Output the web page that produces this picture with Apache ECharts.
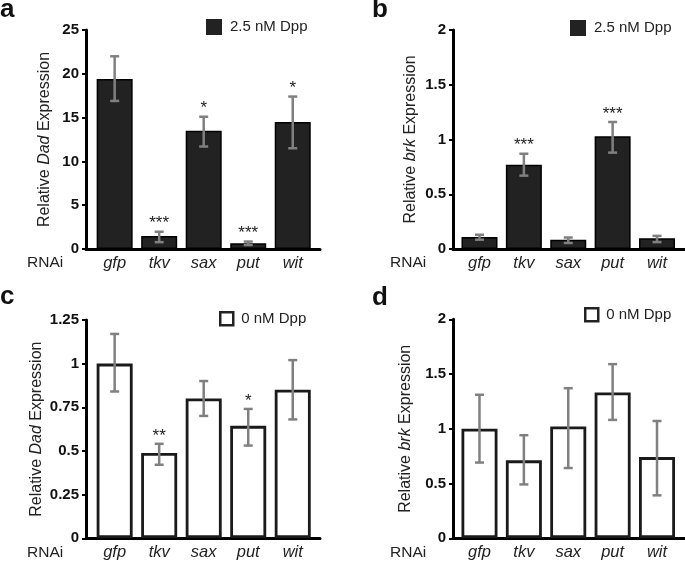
<!DOCTYPE html>
<html>
<head>
<meta charset="utf-8">
<script src="https://cdn.jsdelivr.net/npm/echarts@6/dist/echarts.min.js"></script>
<style>
html,body{margin:0;padding:0;background:#fff;}
#chart{width:685px;height:561px;}
</style>
</head>
<body>
<div id="chart"></div>
<script>
// ---- Data ----
const categories = ['gfp', 'tkv', 'sax', 'put', 'wit'];

// Panel a: Relative Dad expression, 2.5 nM Dpp
const dadDppMean = [19.4, 1.48, 13.5, 0.65, 14.5];
const dadDppLow  = [16.9, 0.78, 11.7, 0.45, 11.5];
const dadDppHigh = [22.0, 1.97, 15.1, 0.85, 17.4];
const dadDppStars = ['', '***', '*', '***', '*'];

// Panel b: Relative brk expression, 2.5 nM Dpp
const brkDppMean = [0.11, 0.77, 0.085, 1.03, 0.098];
const brkDppLow  = [0.085, 0.67, 0.055, 0.88, 0.063];
const brkDppHigh = [0.13, 0.87, 0.105, 1.16, 0.12];
const brkDppStars = ['', '***', '', '***', ''];

// Panel c: Relative Dad expression, 0 nM Dpp
const dadZeroMean = [1.0, 0.487, 0.80, 0.643, 0.85];
const dadZeroLow  = [0.84, 0.42, 0.70, 0.53, 0.68];
const dadZeroHigh = [1.17, 0.54, 0.90, 0.74, 1.02];
const dadZeroStars = ['', '**', '', '*', ''];

// Panel d: Relative brk expression, 0 nM Dpp
const brkZeroMean = [1.0, 0.71, 1.02, 1.33, 0.74];
const brkZeroLow  = [0.69, 0.49, 0.64, 1.08, 0.39];
const brkZeroHigh = [1.31, 0.94, 1.37, 1.59, 1.07];
const brkZeroStars = ['', '', '', '', ''];

// Axis ticks
const dadDppTicks = {min: 0, max: 25, interval: 5};
const brkTicks = {min: 0, max: 2, interval: 0.5};
const dadZeroTicks = {min: 0, max: 1.25, interval: 0.25};

const legendDpp = '2.5 nM Dpp';
const legendZero = '0 nM Dpp';

// ---- Layout / style ----
const FONT = '"Liberation Sans", Arial, Helvetica, sans-serif';
const panels = [
  {letter: 'a', gene: 'Dad', mean: dadDppMean, low: dadDppLow, high: dadDppHigh, stars: dadDppStars,
   ticks: dadDppTicks, name: legendDpp, filled: true,
   axisL: 86, axisR: 320, barL: 92.4, barR: 315, top: 30, bottom: 249, nameGap: 33,
   letterX: 0, letterY: -3, rnaiX: 27, legendX: 206, legendY: 19},
  {letter: 'b', gene: 'brk', mean: brkDppMean, low: brkDppLow, high: brkDppHigh, stars: brkDppStars,
   ticks: brkTicks, name: legendDpp, filled: true,
   axisL: 453, axisR: 685, barL: 457.3, barR: 679.2, top: 30, bottom: 249, nameGap: 34,
   letterX: 372, letterY: -3, rnaiX: 390, legendX: 570, legendY: 20},
  {letter: 'c', gene: 'Dad', mean: dadZeroMean, low: dadZeroLow, high: dadZeroHigh, stars: dadZeroStars,
   ticks: dadZeroTicks, name: legendZero, filled: false,
   axisL: 86, axisR: 320, barL: 92.4, barR: 315, top: 320, bottom: 538.3, nameGap: 41,
   letterX: 0, letterY: 284, rnaiX: 27, legendX: 219, legendY: 311},
  {letter: 'd', gene: 'brk', mean: brkZeroMean, low: brkZeroLow, high: brkZeroHigh, stars: brkZeroStars,
   ticks: brkTicks, name: legendZero, filled: false,
   axisL: 453, axisR: 685, barL: 457.3, barR: 679.2, top: 319.3, bottom: 538.3, nameGap: 39,
   letterX: 372, letterY: 285, rnaiX: 390, legendX: 584, legendY: 307}
];

const grid = [], xAxis = [], yAxis = [], series = [], title = [], legend = [];

panels.forEach((p) => {
  const gAxis = grid.length;
  grid.push({left: p.axisL, top: p.top, width: p.axisR - p.axisL, height: p.bottom - p.top, containLabel: false});
  const gBar = grid.length;
  grid.push({left: p.barL, top: p.top, width: p.barR - p.barL, height: p.bottom - p.top, containLabel: false});

  // axis grid: visible axis lines and y ticks/labels
  xAxis.push({gridIndex: gAxis, type: 'value', min: 0, max: 1,
    axisLine: {show: true, onZero: false, lineStyle: {color: '#000', width: 3}},
    axisTick: {show: false}, axisLabel: {show: false}, splitLine: {show: false}});
  yAxis.push({gridIndex: gAxis, type: 'value', min: p.ticks.min, max: p.ticks.max, interval: p.ticks.interval,
    axisLine: {show: true, lineStyle: {color: '#000', width: 3}},
    axisTick: {show: true, inside: false, length: 4, lineStyle: {color: '#000', width: 2}},
    axisLabel: {margin: 7, fontFamily: FONT, fontSize: 15, fontWeight: 'bold', color: '#111'},
    splitLine: {show: false},
    name: '{n|Relative }{i|' + p.gene + '}{n| Expression}',
    nameLocation: 'middle', nameGap: p.nameGap,
    nameTextStyle: {rich: {
      n: {fontFamily: FONT, fontSize: 16, color: '#222'},
      i: {fontFamily: FONT, fontSize: 16, fontStyle: 'italic', color: '#222'}
    }}
  });

  // bar grid
  const xBar = xAxis.length;
  xAxis.push({gridIndex: gBar, type: 'category', data: categories,
    axisLine: {show: false}, axisTick: {show: false},
    axisLabel: {margin: 6, fontFamily: FONT, fontSize: 16.5, fontStyle: 'italic', color: '#222'}});
  const yBar = yAxis.length;
  yAxis.push({gridIndex: gBar, type: 'value', show: false, min: p.ticks.min, max: p.ticks.max});

  series.push({
    name: p.name, type: 'bar', xAxisIndex: xBar, yAxisIndex: yBar,
    data: p.mean, barWidth: 36,
    itemStyle: p.filled
      ? {color: '#222', borderColor: '#000', borderWidth: 1.5}
      : {color: '#fff', borderColor: '#1a1a1a', borderWidth: 2.8},
    emphasis: {disabled: true}, silent: true, z: 2
  });

  const errData = categories.map((c, k) => [k, p.low[k], p.high[k]]);
  const stars = p.stars;
  series.push({
    type: 'custom', xAxisIndex: xBar, yAxisIndex: yBar, data: errData, z: 5, silent: true,
    renderItem: function (params, api) {
      const x = api.value(0);
      const pl = api.coord([x, api.value(1)]);
      const ph = api.coord([x, api.value(2)]);
      const hw = 4.5;
      const st = {stroke: '#808080', lineWidth: 2.5};
      const children = [
        {type: 'line', shape: {x1: pl[0], y1: pl[1], x2: ph[0], y2: ph[1]}, style: st},
        {type: 'line', shape: {x1: ph[0] - hw, y1: ph[1], x2: ph[0] + hw, y2: ph[1]}, style: st},
        {type: 'line', shape: {x1: pl[0] - hw, y1: pl[1], x2: pl[0] + hw, y2: pl[1]}, style: st}
      ];
      const s = stars[params.dataIndex];
      if (s) {
        children.push({type: 'text', style: {text: s, x: ph[0], y: ph[1] + 0.5, align: 'center', verticalAlign: 'bottom',
          fontFamily: FONT, fontSize: 17, fill: '#222'}});
      }
      return {type: 'group', children: children};
    }
  });

  title.push({text: p.letter, left: p.letterX, top: p.letterY,
    textStyle: {fontFamily: FONT, fontSize: 26, fontWeight: 'bold', color: '#111'}, padding: 0});
  title.push({text: 'RNAi', left: p.rnaiX, top: p.bottom + 6,
    textStyle: {fontFamily: FONT, fontSize: 15.5, fontWeight: 'normal', color: '#222'}, padding: 0});

  legend.push({data: [p.name], left: p.legendX, top: p.legendY, padding: 0,
    icon: 'rect', itemWidth: p.filled ? 16 : 13, itemHeight: p.filled ? 16 : 13, itemGap: 0,
    selectedMode: false,
    itemStyle: p.filled ? {color: '#222', borderWidth: 0} : {color: '#fff', borderColor: '#222', borderWidth: 2.5},
    textStyle: {fontFamily: FONT, fontSize: 15, color: '#222', padding: [0, 0, 0, 3]}});
});

const chart = echarts.init(document.getElementById('chart'), null, {renderer: 'canvas'});
chart.setOption({
  animation: false,
  backgroundColor: '#fff',
  grid, xAxis, yAxis, series, title, legend
});
</script>
</body>
</html>
